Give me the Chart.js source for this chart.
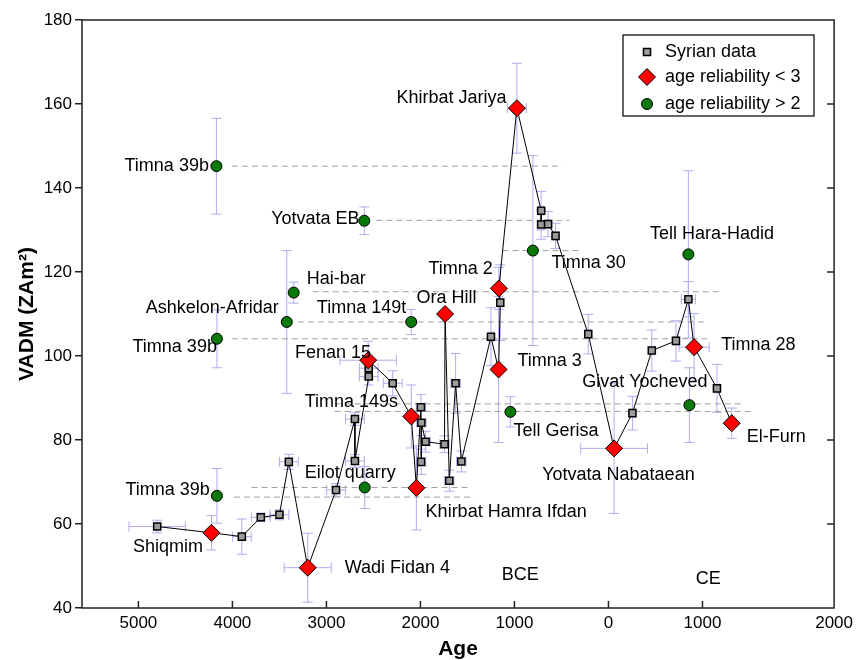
<!DOCTYPE html>
<html>
<head>
<meta charset="utf-8">
<script src="https://cdn.jsdelivr.net/npm/chart.js@4.4.0/dist/chart.umd.min.js"></script>
<style>
  html, body { margin: 0; padding: 0; background: #fff; }
</style>
</head>
<body>
<canvas id="c" width="858" height="660"></canvas>
<script>
// axis ticks
const xTickVals = [-5000, -4000, -3000, -2000, -1000, 0, 1000, 2400];
const xTickLabels = ['5000', '4000', '3000', '2000', '1000', '0', '1000', '2000'];

// connected sequence: Syrian data (s) and age reliability < 3 (r), in line order
const seqAge  = [-4800, -4223, -3900, -3698, -3500, -3400, -3199, -2898, -2697, -2697, -2550, -2550, -2556, -2295, -2097, -2043, -1995, -1993, -1990, -1945, -1744, -1738, -1693, -1626, -1565, -1250, -1169, -1151, -1166, -974, -716, -716, -642, -563, -215, 60, 255, 461, 718, 850, 911, 1154, 1311];
const seqVadm = [59.4, 57.9, 57.0, 61.6, 62.2, 74.8, 49.6, 68.1, 85.0, 75.0, 95.1, 97.1, 99.0, 93.5, 85.6, 68.6, 87.8, 74.8, 84.1, 79.6, 79.0, 110.0, 70.3, 93.5, 74.9, 104.6, 96.8, 112.7, 116.1, 159.0, 134.6, 131.3, 131.4, 128.6, 105.2, 78.0, 86.4, 101.3, 103.6, 113.5, 102.1, 92.3, 84.0];
const seqAgeErr  = [300, 0, 100, 100, 100, 100, 250, 100, 100, 100, 100, 100, 300, 100, 0, 0, 50, 50, 50, 50, 50, 0, 50, 50, 50, 25, 0, 25, 0, 100, 25, 25, 25, 25, 25, 355, 25, 25, 25, 75, 160, 25, 0];
const seqVadmErr = [1.5, 4.1, 4.2, 1.0, 1.2, 1.8, 8.2, 1.5, 1.5, 1.5, 2.0, 2.5, 4.5, 3.0, 7.5, 10.0, 3.0, 3.0, 3.0, 2.5, 2.0, 0, 2.5, 7.1, 2.5, 6.9, 17.4, 9.0, 5.0, 10.7, 4.6, 3.5, 3.0, 3.0, 4.7, 15.5, 4.0, 4.9, 4.8, 4.2, 8.0, 5.7, 3.6];
const seqKind = ['s', 'r', 's', 's', 's', 's', 'r', 's', 's', 's', 's', 's', 'r', 's', 'r', 'r', 's', 's', 's', 's', 's', 'r', 's', 's', 's', 's', 'r', 's', 'r', 'r', 's', 's', 's', 's', 's', 'r', 's', 's', 's', 's', 'r', 's', 'r'];

// age reliability > 2
const grnAge  = [-4170, -2597, -3348, -3422, -4165, -2098, -4165, -2593, -1043, -804, 850, 861];
const grnVadm = [145.2, 132.2, 115.1, 108.1, 104.1, 108.1, 66.7, 68.7, 86.7, 125.1, 124.2, 88.3];
const grnVadmErr = [11.4, 3.3, 2.5, 17.0, 6.9, 3.0, 6.5, 5.0, 3.6, 22.6, 19.9, 8.9];

// dashed reference lines
const dashVadm = [145.2, 132.3, 125.1, 115.3, 108.1, 104.1, 68.7, 66.4, 88.6, 86.8];
const dashFrom = [-4006, -2469, -1127, -3146, -3305, -4006, -3797, -3983, -2912, -2912];
const dashTo   = [-490, -415, -320, 1213, 1054, 1051, -1478, -1425, 1409, 1529];

// site labels
const lblText = ['Khirbat Jariya', 'Timna 39b', 'Yotvata EB', 'Hai-bar', 'Ashkelon-Afridar', 'Timna 39b', 'Fenan 15', 'Timna 149t', 'Ora Hill', 'Timna 2', 'Timna 30', 'Timna 3', 'Timna 149s', 'Eilot quarry', 'Khirbat Hamra Ifdan', 'Shiqmim', 'Timna 39b', 'Wadi Fidan 4', 'Tell Gerisa', 'Yotvata Nabataean', 'Givat Yocheved', 'Tell Hara-Hadid', 'Timna 28', 'El-Furn', 'BCE', 'CE'];
const lblAge  = [-1085, -4250, -2647, -3210, -3507, -4165, -3335, -3102, -2042, -1914, -607, -968, -3231, -3231, -1945, -5058, -4240, -2806, -1010, -705, -280, 442, 1199, 1472, -939, 1061];
const lblVadm = [161.4, 145.2, 132.5, 118.3, 111.4, 102.2, 100.8, 111.4, 113.7, 120.6, 122.1, 98.9, 89.1, 72.1, 62.9, 54.6, 68.1, 49.6, 82.1, 71.7, 93.7, 129.0, 102.6, 80.6, 47.9, 46.9];
const lblAlign = ['right', 'right', 'right', 'left', 'right', 'right', 'left', 'left', 'left', 'left', 'left', 'left', 'left', 'left', 'left', 'left', 'right', 'left', 'left', 'left', 'left', 'left', 'left', 'left', 'center', 'center'];

const FONT = '"Liberation Sans", Arial, Helvetica, sans-serif';
Chart.defaults.font.family = FONT;
Chart.defaults.color = '#000';

const pts = (ages, vals) => ages.map((a, i) => ({ x: a, y: vals[i] }));
const seqPts = pts(seqAge, seqVadm);
const syrPts = seqPts.filter((p, i) => seqKind[i] === 's');
const redPts = seqPts.filter((p, i) => seqKind[i] === 'r');
const grnPts = pts(grnAge, grnVadm);

const datasets = [
  { label: 'age reliability > 2', data: grnPts, pointStyle: 'circle', pointRadius: 5.5,
    backgroundColor: '#087808', borderColor: '#000', borderWidth: 1, order: 0 },
  { label: 'age reliability < 3', data: redPts, pointStyle: 'rectRot', pointRadius: 8.5,
    backgroundColor: '#ff0000', borderColor: '#000', borderWidth: 1, order: 1 },
  { label: 'Syrian data', data: syrPts, pointStyle: 'rect', pointRadius: 5,
    backgroundColor: '#9c9c9c', borderColor: '#000', borderWidth: 1.5, order: 2 },
  { label: 'path', data: seqPts, showLine: true, pointRadius: 0,
    borderColor: '#000', borderWidth: 1, order: 5 }
];
dashVadm.forEach((v, i) => {
  datasets.push({ label: 'dash' + i, data: [{ x: dashFrom[i], y: v }, { x: dashTo[i], y: v }],
    showLine: true, pointRadius: 0, borderColor: '#a89c9c', borderWidth: 1,
    borderDash: [6, 4], order: 10 });
});

function errBar(ctx, xs, ys, x, y, dx, dy) {
  const px = xs.getPixelForValue(x), py = ys.getPixelForValue(y);
  ctx.beginPath();
  if (dy) {
    const y1 = ys.getPixelForValue(y + dy), y2 = ys.getPixelForValue(y - dy);
    ctx.moveTo(px, y1); ctx.lineTo(px, y2);
    ctx.moveTo(px - 5, y1); ctx.lineTo(px + 5, y1);
    ctx.moveTo(px - 5, y2); ctx.lineTo(px + 5, y2);
  }
  if (dx) {
    const x1 = xs.getPixelForValue(x - dx), x2 = xs.getPixelForValue(x + dx);
    ctx.moveTo(x1, py); ctx.lineTo(x2, py);
    ctx.moveTo(x1, py - 5); ctx.lineTo(x1, py + 5);
    ctx.moveTo(x2, py - 5); ctx.lineTo(x2, py + 5);
  }
  ctx.stroke();
}

const errorBars = {
  id: 'errorBars',
  beforeDatasetsDraw(chart) {
    const { ctx, scales: { x, y } } = chart;
    ctx.save();
    ctx.strokeStyle = '#adadf0';
    ctx.lineWidth = 1;
    seqAge.forEach((a, i) => errBar(ctx, x, y, a, seqVadm[i], seqAgeErr[i], seqVadmErr[i]));
    grnAge.forEach((a, i) => errBar(ctx, x, y, a, grnVadm[i], 0, grnVadmErr[i]));
    ctx.restore();
  }
};

const siteLabels = {
  id: 'siteLabels',
  afterDatasetsDraw(chart) {
    const { ctx, scales: { x, y } } = chart;
    ctx.save();
    ctx.font = '18px ' + FONT;
    ctx.fillStyle = '#000';
    ctx.textBaseline = 'middle';
    lblText.forEach((t, i) => {
      ctx.textAlign = lblAlign[i];
      ctx.fillText(t, x.getPixelForValue(lblAge[i]), y.getPixelForValue(lblVadm[i]));
    });
    ctx.restore();
  }
};

const frame = {
  id: 'frame',
  afterDraw(chart) {
    const { ctx, chartArea: a, scales: { x, y } } = chart;
    ctx.save();
    ctx.strokeStyle = '#222';
    ctx.lineWidth = 1.5;
    ctx.strokeRect(a.left, a.top, a.right - a.left, a.bottom - a.top);
    ctx.beginPath();
    xTickVals.forEach(v => {
      const px = x.getPixelForValue(v);
      if (px > a.left + 2 && px < a.right - 2) { ctx.moveTo(px, a.bottom); ctx.lineTo(px, a.bottom - 7); }
    });
    y.ticks.forEach(t => {
      const py = y.getPixelForValue(t.value);
      if (py > a.top + 2 && py < a.bottom - 2) { ctx.moveTo(a.right, py); ctx.lineTo(a.right - 7, py); }
    });
    ctx.stroke();

    // legend
    const lx = 623, ly = 35, lw = 191, lh = 81;
    ctx.fillStyle = '#fff';
    ctx.fillRect(lx, ly, lw, lh);
    ctx.lineWidth = 1.2;
    ctx.strokeStyle = '#000';
    ctx.strokeRect(lx, ly, lw, lh);
    const rows = [
      { text: 'Syrian data', ds: datasets[2], yy: 52 },
      { text: 'age reliability < 3', ds: datasets[1], yy: 77 },
      { text: 'age reliability > 2', ds: datasets[0], yy: 104 }
    ];
    ctx.font = '18px ' + FONT;
    ctx.textBaseline = 'middle';
    ctx.textAlign = 'left';
    rows.forEach(r => {
      ctx.fillStyle = r.ds.backgroundColor;
      ctx.strokeStyle = r.ds.borderColor;
      ctx.lineWidth = r.ds.borderWidth;
      Chart.helpers.drawPoint(ctx, { pointStyle: r.ds.pointStyle, radius: r.ds.pointRadius, rotation: 0, borderWidth: r.ds.borderWidth }, 647, r.yy);
      ctx.fillStyle = '#000';
      ctx.fillText(r.text, 665, r.yy);
    });
    ctx.restore();
  }
};

new Chart(document.getElementById('c'), {
  type: 'scatter',
  data: { datasets },
  options: {
    responsive: false,
    animation: false,
    devicePixelRatio: 1,
    layout: { padding: { top: 20, right: 22, left: 0, bottom: 0 } },
    plugins: { legend: { display: false }, tooltip: { enabled: false } },
    scales: {
      x: {
        type: 'linear', min: -5600, max: 2400,
        afterBuildTicks: s => { s.ticks = xTickVals.map(v => ({ value: v })); },
        afterFit: s => { s.height = 52; },
        ticks: { font: { size: 17 }, color: '#000', padding: 5, maxRotation: 0,
                 callback: (v, i) => xTickLabels[i] },
        grid: { display: false, drawTicks: false },
        border: { display: false },
        title: { display: true, text: 'Age', font: { size: 21, weight: 'bold', lineHeight: 1 },
                 padding: { top: 0, bottom: 0 }, color: '#000' }
      },
      y: {
        type: 'linear', min: 40, max: 180,
        afterFit: s => { s.width = 82; },
        ticks: { stepSize: 20, font: { size: 17 }, color: '#000', padding: 3 },
        grid: { drawOnChartArea: false, drawTicks: true, tickLength: 7, color: '#222', lineWidth: 1.5 },
        border: { display: false },
        title: { display: true, text: 'VADM (ZAm²)', font: { size: 21, weight: 'bold', lineHeight: 1 },
                 padding: { top: 17, bottom: 0 }, color: '#000' }
      }
    }
  },
  plugins: [errorBars, siteLabels, frame]
});
</script>
</body>
</html>
